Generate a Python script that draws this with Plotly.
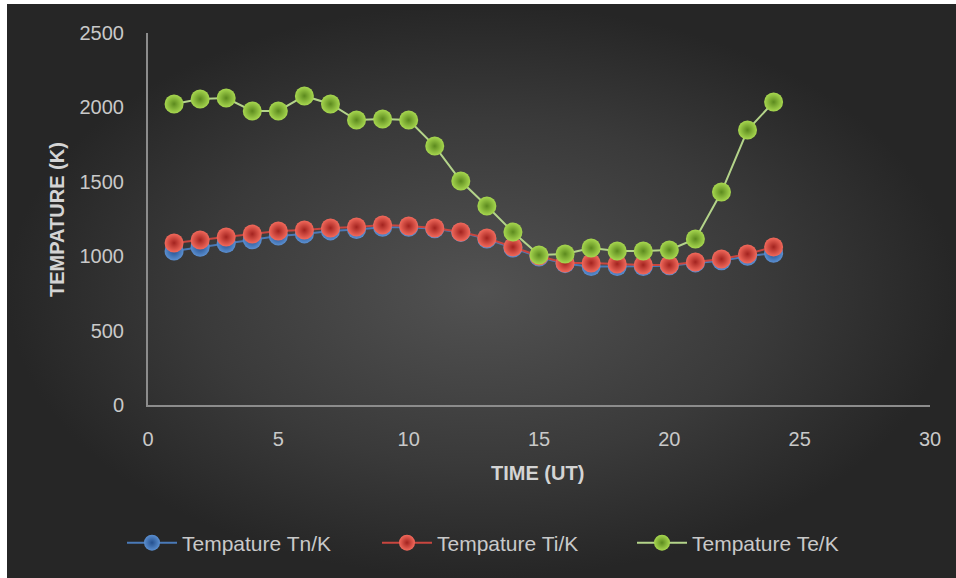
import plotly.graph_objects as go

hours = list(range(1, 25))
tn = [1035, 1060, 1085, 1110, 1135, 1150, 1170, 1180, 1195, 1195, 1185, 1160,
      1115, 1055, 995, 950, 930, 930, 930, 935, 955, 970, 1000, 1020]
ti = [1089, 1109, 1129, 1149, 1169, 1176, 1190, 1196, 1210, 1203, 1190, 1163,
      1122, 1062, 1001, 954, 954, 948, 941, 941, 961, 981, 1015, 1062]
te = [2023, 2056, 2063, 1976, 1976, 2077, 2023, 1915, 1922, 1915, 1740, 1505,
      1337, 1163, 1008, 1015, 1055, 1035, 1035, 1042, 1116, 1431, 1848, 2036]

x_ticks = [0, 5, 10, 15, 20, 25, 30]
y_ticks = [0, 500, 1000, 1500, 2000, 2500]

W, H = 956, 578
FONT = "Liberation Sans, Arial, sans-serif"
TXT = "#c9c9c9"

fig = go.Figure()

# background panel with radial gradient (pixel-coordinate helper axes)
fig.add_trace(go.Scatter(
    x=[7, W, W, 7, 7], y=[4, 4, H, H, 4], mode="lines", fill="toself",
    line=dict(width=0), fillgradient=dict(type="radial",
    colorscale=[[0, "#525252"], [0.6, "#3a3a3a"], [1, "#262626"]]),
    hoverinfo="skip", showlegend=False, xaxis="x", yaxis="y"))

series = [
    ("Tempature Tn/K", tn, "#5b8fd0", "#24508f", "#4a7ab8"),
    ("Tempature Ti/K", ti, "#f26a5c", "#a3231f", "#c9463f"),
    ("Tempature Te/K", te, "#a8d850", "#5c8a1e", "#b4d48a"),
]
for name, vals, c_in, c_out, c_line in series:
    fig.add_trace(go.Scatter(
        x=hours, y=vals, name=name, mode="lines+markers",
        line=dict(color=c_line, width=2),
        marker=dict(size=19, color=c_in,
                    gradient=dict(type="radial", color=c_out),
                    line=dict(width=0)),
        xaxis="x2", yaxis="y2"))

x0, x1 = 148 / W, 930 / W
y0, y1 = (H - 405) / H, (H - 33) / H

fig.update_layout(
    width=W, height=H,
    margin=dict(l=0, r=0, t=0, b=0, autoexpand=False),
    paper_bgcolor="white",
    plot_bgcolor="rgba(0,0,0,0)",
    font=dict(family=FONT, color=TXT, size=20),
    xaxis=dict(domain=[0, 1], range=[0, W], visible=False, fixedrange=True),
    yaxis=dict(domain=[0, 1], range=[H, 0], visible=False, fixedrange=True),
    xaxis2=dict(domain=[x0, x1], range=[0, 30], anchor="y2",
                tickvals=x_ticks, showgrid=False, zeroline=False,
                showline=True, linecolor="#8c8c8c", linewidth=2,
                ticks="", ticklabelstandoff=15,
                tickfont=dict(size=20, color=TXT, family=FONT)),
    yaxis2=dict(domain=[y0, y1], range=[0, 2500], anchor="x2",
                tickvals=y_ticks, showgrid=False, zeroline=False,
                showline=True, linecolor="#8c8c8c", linewidth=2,
                ticks="", ticklabelstandoff=18,
                tickfont=dict(size=20, color=TXT, family=FONT)),
    legend=dict(orientation="h", x=122 / W, xanchor="left",
                y=(H - 543) / H, yanchor="middle",
                itemwidth=50,
                entrywidth=190, entrywidthmode="pixels",
                bgcolor="rgba(0,0,0,0)",
                font=dict(size=21, color=TXT, family=FONT)),
    annotations=[
        dict(text="<b>TIME (UT)</b>", x=537 / W, y=(H - 473) / H,
             xref="paper", yref="paper", showarrow=False,
             xanchor="center", yanchor="middle",
             font=dict(size=20, color="#d4d4d4", family=FONT)),
        dict(text="<b>TEMPATURE (K)</b>", x=57 / W, y=(H - 220) / H,
             xref="paper", yref="paper", showarrow=False, textangle=-90,
             xanchor="center", yanchor="middle",
             font=dict(size=20, color="#d4d4d4", family=FONT)),
    ],
)

fig.write_html("out.html",
               config={"displayModeBar": False},
               post_script="document.body.style.margin='0px';"
                           "document.body.style.overflow='hidden';")
